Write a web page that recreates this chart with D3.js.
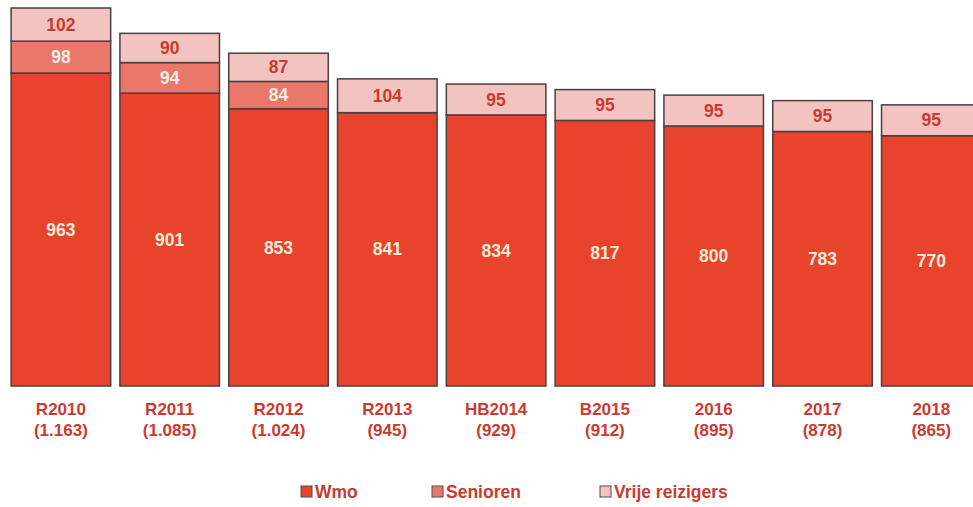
<!DOCTYPE html>
<meta charset='utf-8'>
<title>Wmo / Senioren / Vrije reizigers</title>
<style>
body {
  margin: 0;
  background-color: #fff;
}
text {
  font-family: "Liberation Sans", Arial, sans-serif;
  font-weight: bold;
}
</style>
<svg width="973" height="507"></svg>
<script src="https://d3js.org/d3.v7.min.js"></script>
<script>

var categories = ["R2010", "R2011", "R2012", "R2013", "HB2014", "B2015", "2016", "2017", "2018"];
var totals     = ["1.163", "1.085", "1.024", "945", "929", "912", "895", "878", "865"];
var wmo        = [963, 901, 853, 841, 834, 817, 800, 783, 770];
var senioren   = [98, 94, 84, 0, 0, 0, 0, 0, 0];
var vrije      = [102, 90, 87, 104, 95, 95, 95, 95, 95];

var keys = ["Wmo", "Senioren", "Vrije reizigers"];
var fills = ["#e8432c", "#ea786a", "#f3c3c0"];
var textFill = ["#f8ecd8", "#fbeee8", "#c93b30"];

var svg = d3.select("svg");

var baseline = 386;

// one row per year, stacked in legend order
var rows = categories.map(function(c, i) {
  return { cat: c, "Wmo": wmo[i], "Senioren": senioren[i], "Vrije reizigers": vrije[i] };
});
var series = d3.stack().keys(keys)(rows);

var x = d3.scaleBand()
    .domain(categories)
    .range([6.5, 6.5 + 9 * 108.8])
    .paddingInner(0.085)
    .paddingOuter(0.0425);

var y = d3.scaleLinear()
    .domain([0, 1163])
    .range([baseline, 8]);

var layer = svg.selectAll("g.layer")
    .data(series)
  .enter().append("g")
    .attr("class", "layer");

layer.selectAll("rect")
    .data(function(d) { return d.filter(function(s) { return s[1] > s[0]; }); })
  .enter().append("rect")
    .attr("x", function(d) { return x(d.data.cat); })
    .attr("width", x.bandwidth())
    .attr("y", function(d) { return y(d[1]); })
    .attr("height", function(d) { return y(d[0]) - y(d[1]); })
    .attr("fill", function(d) { return fills[keys.indexOf(this.parentNode.__data__.key)]; })
    .attr("stroke", "#4a4040")
    .attr("stroke-width", 1.5);

layer.selectAll("text")
    .data(function(d) { return d.filter(function(s) { return s[1] > s[0]; }); })
  .enter().append("text")
    .attr("x", function(d) { return x(d.data.cat) + x.bandwidth() / 2; })
    .attr("y", function(d) { return (y(d[0]) + y(d[1])) / 2; })
    .attr("dy", "0.35em")
    .attr("text-anchor", "middle")
    .attr("font-size", 17.5)
    .attr("fill", function(d) { return textFill[keys.indexOf(this.parentNode.__data__.key)]; })
    .text(function(d) { return d[1] - d[0]; });

// category labels with totals
var axis = svg.append("g")
    .attr("transform", "translate(0," + baseline + ")")
    .call(d3.axisBottom(x).tickSize(0).tickPadding(0).tickFormat(""));
axis.select(".domain").remove();

axis.selectAll(".tick").each(function(d, i) {
  var t = d3.select(this).select("text")
      .attr("y", 0)
      .attr("dy", 0)
      .attr("font-size", 17)
      .attr("font-family", null)
      .attr("fill", "#c93b30");
  t.append("tspan").attr("x", 0).attr("y", 29).text(d);
  t.append("tspan").attr("x", 0).attr("y", 50).text("(" + totals[i] + ")");
});

// legend
var legendX = [301, 432, 600];
var legend = svg.selectAll("g.legend")
    .data(keys)
  .enter().append("g")
    .attr("class", "legend")
    .attr("transform", function(d, i) { return "translate(" + legendX[i] + ",486)"; });

legend.append("rect")
    .attr("width", 11)
    .attr("height", 11)
    .attr("fill", function(d, i) { return fills[i]; })
    .attr("stroke", "#5a4a4a")
    .attr("stroke-width", 1);

legend.append("text")
    .attr("x", 14)
    .attr("y", 6)
    .attr("dy", "0.35em")
    .attr("font-size", 17.5)
    .attr("fill", "#c93b30")
    .text(function(d) { return d; });
</script>
